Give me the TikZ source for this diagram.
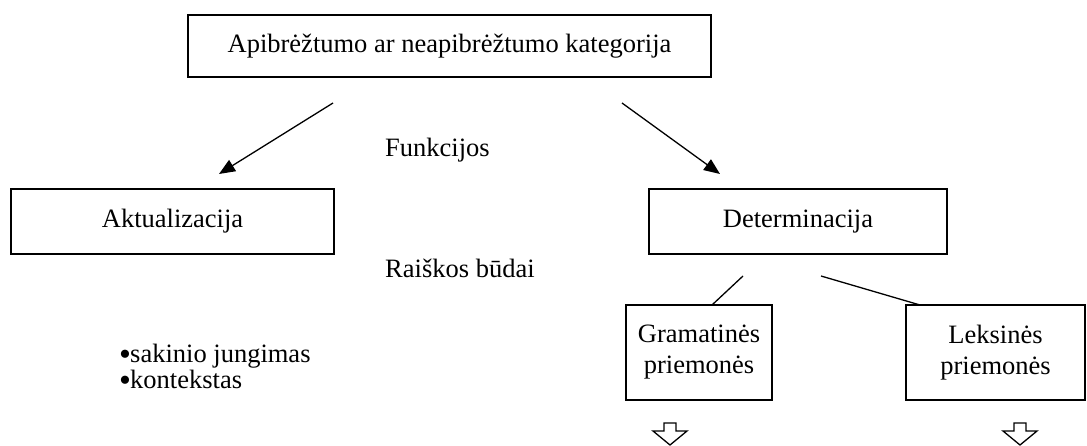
\documentclass[tikz,border=0pt]{standalone}
\usepackage{fontspec}
\setmainfont{Liberation Serif}
\usetikzlibrary{arrows.meta}
\begin{document}
\begin{tikzpicture}[x=1pt,y=-1pt,
  box/.style={draw,line width=1.5pt,inner sep=0pt,align=center,font=\fontsize{26.5}{31}\selectfont},
  lbl/.style={font=\fontsize{26.5}{30}\selectfont,inner sep=0pt},
  bullet/.style={font=\fontsize{34}{34}\selectfont,inner sep=0pt,anchor=base west},
  arr/.style={line width=1.3pt,-{Triangle[length=16pt,width=13pt]}},
  ln/.style={line width=1.3pt},
  hollow/.style={draw,line width=1.3pt,line join=miter}]
\useasboundingbox (0,0) rectangle (1087,446);
\node[box,minimum width=523pt,minimum height=62pt] (top) at (449.5,46) {Apibrėžtumo ar neapibrėžtumo kategorija};
\node[box,minimum width=323pt,minimum height=65pt] (akt) at (172.5,221.5) {Aktualizacija};
\node[box,minimum width=298pt,minimum height=65pt] (det) at (798,221.5) {Determinacija};
\node[box,minimum width=146pt,minimum height=95pt] (gram) at (699,352.5) {Gramatinės\\priemonės};
\node[box,minimum width=179pt,minimum height=95pt] (leks) at (995.5,352.5) {Leksinės\\priemonės};
\node[lbl,anchor=west] (fun) at (385,150) {Funkcijos};
\node[lbl,anchor=west] (rai) at (385,268) {Raiškos būdai};
\node[bullet] (bu1) at (119,365.5) {\smash{•}};
\node[bullet] (bu2) at (119,391.5) {\smash{•}};
\node[lbl,anchor=base west] (t1) at (130,362) {sakinio jungimas};
\node[lbl,anchor=base west] (t2) at (130,388) {kontekstas};
\coordinate (a1) at (333,103); \coordinate (a2) at (219,174);
\coordinate (b1) at (622,103); \coordinate (b2) at (720,174);
\coordinate (c1) at (743,276); \coordinate (c2) at (712,305);
\coordinate (d1) at (821,276); \coordinate (d2) at (920,305);
\draw[arr] (a1) -- (a2);
\draw[arr] (b1) -- (b2);
\draw[ln] (c1) -- (c2);
\draw[ln] (d1) -- (d2);
\foreach \cx in {670,1020}{
  \draw[hollow] (\cx-6,423) -- (\cx+6,423) -- (\cx+6,431) -- (\cx+17,431) -- (\cx,445) -- (\cx-17,431) -- (\cx-6,431) -- cycle;
}
\end{tikzpicture}
\end{document}
